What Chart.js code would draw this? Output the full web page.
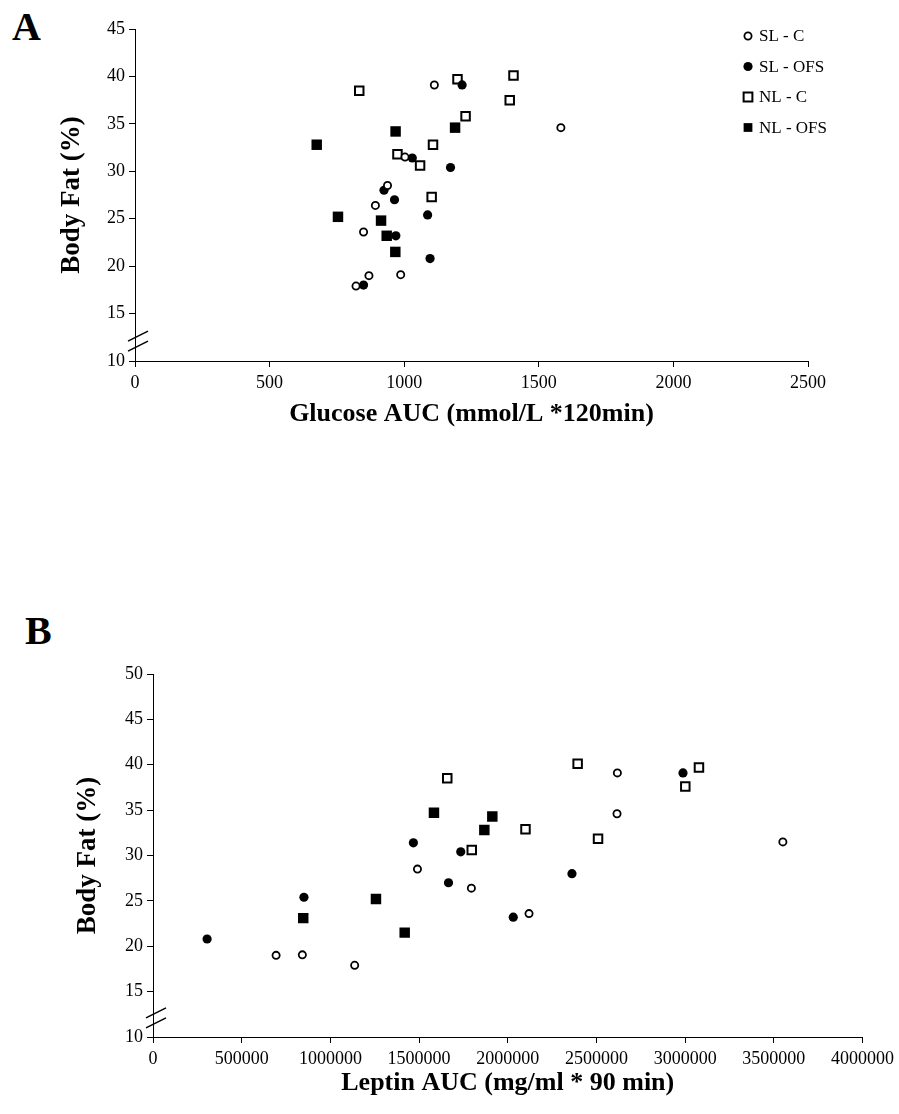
<!DOCTYPE html>
<html>
<head>
<meta charset="utf-8">
<script src="https://cdn.jsdelivr.net/npm/chart.js@4.4.1/dist/chart.umd.min.js"></script>
<style>
  body { margin: 0; background: #fff; width: 899px; height: 1114px; position: relative; overflow: hidden; }
  .panel { position: absolute; left: 0; }
  .letter { position: absolute; font: bold 40px "Liberation Serif", "Times New Roman", serif; line-height: 1; color: #000; }
</style>
</head>
<body>
<div class="letter" style="left:12px;top:7px">A</div>
<div class="letter" style="left:25px;top:611px">B</div>
<div class="panel" style="top:0"><canvas id="chartA" width="899" height="440"></canvas></div>
<div class="panel" style="top:580px"><canvas id="chartB" width="899" height="534"></canvas></div>
<script>
// groups
const groupLabels = ['SL - C', 'SL - OFS', 'NL - C', 'NL - OFS'];

// panel A: glucose AUC vs body fat
const glucoseTicks = [0, 500, 1000, 1500, 2000, 2500];
const aSLCx = [1112, 1582, 1003, 938, 893, 849, 869, 987, 821];
const aSLCy = [39.1, 34.6, 31.5, 28.5, 26.4, 23.6, 19.0, 19.1, 17.9];
const aSLOx = [1215, 1030, 1172, 925, 964, 1087, 969, 1096, 849];
const aSLOy = [39.1, 31.4, 30.4, 28.0, 27.0, 25.4, 23.2, 20.8, 18.0];
const aNLCx = [833, 1198, 1406, 1392, 1228, 1107, 975, 1059, 1102];
const aNLCy = [38.5, 39.7, 40.1, 37.5, 35.8, 32.8, 31.8, 30.6, 27.3];
const aNLOx = [968, 1189, 675, 754, 914, 935, 967];
const aNLOy = [34.2, 34.6, 32.8, 25.2, 24.8, 23.2, 21.5];

// panel B: leptin AUC vs body fat
const leptinTicks = [0, 500000, 1000000, 1500000, 2000000, 2500000, 3000000, 3500000, 4000000];
const bSLCx = [694000, 842000, 1137000, 1491000, 1795000, 2120000, 2616000, 2618000, 3551000];
const bSLCy = [19.0, 19.05, 17.9, 28.5, 26.4, 23.6, 34.6, 39.1, 31.5];
const bSLOx = [305000, 851000, 1468000, 1666000, 1735000, 2031000, 2362000, 2988000];
const bSLOy = [20.8, 25.4, 31.4, 27.0, 30.4, 23.2, 28.0, 39.1];
const bNLCx = [1659000, 1797000, 2100000, 2394000, 2509000, 3001000, 3078000];
const bNLCy = [38.5, 30.6, 32.9, 40.1, 31.85, 37.6, 39.7];
const bNLOx = [847000, 1257000, 1419000, 1584000, 1868000, 1913000];
const bNLOy = [23.1, 25.2, 21.5, 34.7, 32.8, 34.3];

const serif = '"Liberation Serif", "Times New Roman", serif';

const zip = (xs, ys) => xs.map((x, i) => ({ x: x, y: ys[i] }));

// marker look for each group
const markers = [
  { pointStyle: 'circle', radius: 3.6, fill: '#fff', border: 1.8 },
  { pointStyle: 'circle', radius: 4.6, fill: '#000', border: 0 },
  { pointStyle: 'rect', radius: 6, fill: '#fff', border: 2 },
  { pointStyle: 'rect', radius: 7.4, fill: '#000', border: 0 }
];

const makeDatasets = (series) => series.map((pts, i) => ({
  label: groupLabels[i],
  data: pts,
  pointStyle: markers[i].pointStyle,
  pointRadius: markers[i].radius,
  pointBackgroundColor: markers[i].fill,
  pointBorderColor: '#000',
  pointBorderWidth: markers[i].border,
  showLine: false
}));

// the "//" break on the value axis between 10 and 15
const axisBreak = {
  id: 'axisBreak',
  afterDraw(chart) {
    const ctx = chart.ctx;
    const ys = chart.scales.y;
    const ax = chart.scales.x.getPixelForValue(0);
    const c = ys.getPixelForValue(12.1);
    ctx.save();
    ctx.strokeStyle = '#000';
    ctx.lineWidth = 1.5;
    ctx.beginPath();
    ctx.moveTo(ax - 7, c); ctx.lineTo(ax + 13, c - 10);
    ctx.moveTo(ax - 7, c + 10); ctx.lineTo(ax + 13, c);
    ctx.stroke();
    ctx.restore();
  }
};

// legend in the top right corner of panel A
const cornerLegend = {
  id: 'cornerLegend',
  afterDraw(chart, args, opts) {
    if (!opts.show) return;
    const ctx = chart.ctx;
    ctx.save();
    ctx.font = '17px ' + serif;
    ctx.textBaseline = 'middle';
    chart.data.datasets.forEach((ds, i) => {
      const y = opts.top + i * opts.step;
      ctx.fillStyle = ds.pointBackgroundColor;
      ctx.strokeStyle = '#000';
      ctx.lineWidth = ds.pointBorderWidth;
      Chart.helpers.drawPoint(ctx, {
        pointStyle: ds.pointStyle,
        radius: ds.pointStyle === 'rect' ? 6.2 : ds.pointRadius,
        borderWidth: ds.pointBorderWidth
      }, opts.left, y);
      ctx.fillStyle = '#000';
      ctx.fillText(ds.label, opts.left + 11, y + 1);
    });
    ctx.restore();
  }
};

const makeOptions = (cfg) => ({
  responsive: false,
  animation: false,
  events: [],
  layout: { padding: { top: cfg.padTop, right: cfg.padRight, left: 0, bottom: 0 } },
  plugins: {
    legend: { display: false },
    tooltip: { enabled: false },
    cornerLegend: cfg.legend
  },
  scales: {
    x: {
      type: 'linear',
      min: cfg.xTicks[0],
      max: cfg.xTicks[cfg.xTicks.length - 1],
      afterBuildTicks: (s) => { s.ticks = cfg.xTicks.map(v => ({ value: v })); },
      afterFit: (s) => { s.height = cfg.xHeight; },
      grid: { drawOnChartArea: false, drawTicks: true, tickLength: 6, color: '#000' },
      border: { color: '#000', width: 1 },
      ticks: { color: '#000', padding: 5, font: { family: serif, size: 18 }, callback: v => String(v), maxRotation: 0 },
      title: { display: true, text: cfg.xTitle, color: '#000', padding: { bottom: cfg.xTitlePad, top: 0 },
        font: { family: serif, size: 26, weight: 'bold' } }
    },
    y: {
      min: 10,
      max: cfg.yMax,
      afterFit: (s) => { s.width = cfg.yWidth; },
      grid: { drawOnChartArea: false, drawTicks: true, tickLength: 6, color: '#000' },
      border: { color: '#000', width: 1 },
      ticks: { color: '#000', stepSize: 5, padding: 4, font: { family: serif, size: 18 } },
      title: { display: true, text: 'Body Fat (%)', color: '#000', padding: { top: cfg.yTitlePad, bottom: 0 },
        font: { family: serif, size: 27, weight: 'bold' } }
    }
  }
});

new Chart(document.getElementById('chartA'), {
  type: 'scatter',
  data: { datasets: makeDatasets([zip(aSLCx, aSLCy), zip(aSLOx, aSLOy), zip(aNLCx, aNLCy), zip(aNLOx, aNLOy)]) },
  options: makeOptions({
    padTop: 29, padRight: 91, xHeight: 79, yWidth: 135, yMax: 45,
    xTicks: glucoseTicks, xTitle: 'Glucose AUC (mmol/L *120min)', xTitlePad: 10, yTitlePad: 56,
    legend: { show: true, left: 748, top: 36, step: 30.5 }
  }),
  plugins: [axisBreak, cornerLegend]
});

new Chart(document.getElementById('chartB'), {
  type: 'scatter',
  data: { datasets: makeDatasets([zip(bSLCx, bSLCy), zip(bSLOx, bSLOy), zip(bNLCx, bNLCy), zip(bNLOx, bNLOy)]) },
  options: makeOptions({
    padTop: 94, padRight: 33, xHeight: 77, yWidth: 153, yMax: 50,
    xTicks: leptinTicks, xTitle: 'Leptin AUC (mg/ml * 90 min)', xTitlePad: 15, yTitlePad: 72,
    legend: { show: false }
  }),
  plugins: [axisBreak, cornerLegend]
});
</script>
</body>
</html>
